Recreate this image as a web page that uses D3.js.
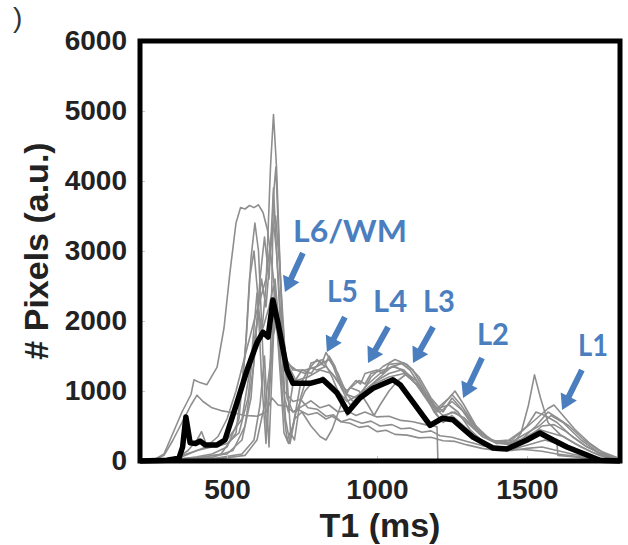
<!DOCTYPE html>
<html>
<head>
<meta charset="utf-8">
<script src="https://cdn.jsdelivr.net/npm/d3@7"></script>
<style>
  body { margin: 0; background: #fff; }
  svg { display: block; }
</style>
</head>
<body>
<div id="chart"></div>
<script>
// Axis ticks
var xTicks = [500, 1000, 1500];
var yTicks = [0, 1000, 2000, 3000, 4000, 5000, 6000];

// Mean curve (black), [T1 ms, pixels]
var meanCurve = [[210,0],[300,10],[340,40],[352,200],[363,630],[377,260],[395,250],[410,285],[427,230],[467,230],[493,300],
  [533,830],[567,1300],[600,1690],[620,1840],[637,1770],[653,2300],[670,1970],[700,1300],[720,1110],[777,1110],
  [820,1160],[867,970],[903,700],[943,900],[987,1040],[1053,1160],[1077,1090],[1120,840],[1177,510],[1217,610],
  [1253,590],[1290,450],[1320,340],[1387,185],[1433,170],[1500,300],[1543,400],[1587,300],[1633,200],[1700,85],
  [1743,10],[1810,0]];

// Individual subject curves (grey)
var g1 = [[250,0],[300,20],[350,80],[400,150],[450,200],[500,300],[550,600],[580,1400],[600,2400],[615,1800],[630,2500],
  [645,4200],[655,4950],[665,4200],[680,2400],[692,900],[705,700],[720,1100],[750,1300],[780,1250],[810,1420],[825,1350],
  [840,1500],[860,1350],[880,1100],[900,1000],[930,1150],[945,1100],[960,1250],[1000,1300],[1020,1250],[1040,1380],
  [1080,1400],[1110,1300],[1140,1100],[1170,900],[1200,700],[1230,850],[1250,950],[1280,800],[1320,550],[1360,350],
  [1400,250],[1450,300],[1500,500],[1530,700],[1560,650],[1600,550],[1650,350],[1700,200],[1750,100],[1800,40]];
var g2 = [[250,0],[290,100],[320,400],[350,700],[380,950],[390,1160],[410,1120],[433,1090],[467,1340],[490,1900],[510,2700],
  [530,3400],[545,3620],[560,3600],[575,3650],[590,3620],[605,3660],[620,3550],[635,3300],[650,2800],[665,2200],
  [680,1700],[700,1400],[730,1300],[760,1250],[780,1330],[800,1300],[830,1350],[860,1200],[880,1080],[900,1000],
  [940,1150],[960,1100],[980,1250],[1020,1300],[1060,1350],[1100,1250],[1140,1050],[1180,800],[1220,650],[1260,700],
  [1300,550],[1350,350],[1400,250],[1450,250],[1500,350],[1540,450],[1580,400],[1620,350],[1680,200],[1740,80],[1800,20]];
var g3 = [[250,0],[290,80],[320,300],[350,550],[380,800],[400,940],[420,850],[450,760],[480,720],[520,690],[560,650],
  [600,640],[630,700],[650,900],[670,800],[700,780],[720,700],[740,730],[770,660],[800,690],[830,600],[850,640],
  [880,560],[910,600],[950,540],[980,570],[1010,500],[1050,520],[1080,460],[1110,470],[1150,410],[1180,430],
  [1210,360],[1250,340],[1300,280],[1350,220],[1400,190],[1450,170],[1500,160],[1550,140],[1600,100],[1700,50],[1800,10]];
var g4 = [[250,0],[350,30],[400,60],[450,100],[500,200],[540,600],[565,1800],[580,2900],[593,3400],[605,3000],[620,1500],
  [632,400],[645,1200],[660,2600],[672,2000],[685,900],[700,300],[720,500],[745,1100],[770,1300],[800,1450],[815,1380],
  [830,1550],[850,1400],[880,1050],[910,800],[940,900],[980,1200],[1020,1350],[1060,1450],[1100,1380],[1140,1200],
  [1180,900],[1220,700],[1250,900],[1280,750],[1320,500],[1380,300],[1440,250],[1500,400],[1540,500],[1580,650],
  [1620,550],[1680,300],[1740,120],[1800,30]];
var g5 = [[250,0],[400,40],[480,100],[530,400],[560,1500],[575,2600],[590,3000],[602,2400],[615,1200],[630,250],
  [645,1500],[655,3800],[663,4200],[672,3200],[685,2000],[700,1200],[712,400],[725,300],[745,900],[780,1400],[820,1450],
  [850,1200],[880,900],[900,650],[930,800],[970,1050],[1010,1200],[1050,1350],[1090,1300],[1130,1100],[1170,900],
  [1210,700],[1250,850],[1290,700],[1340,420],[1400,260],[1460,220],[1510,350],[1550,500],[1590,520],[1630,420],
  [1690,230],[1750,90],[1800,20]];
var g6 = [[250,0],[300,10],[350,60],[400,150],[430,200],[470,350],[500,600],[530,1000],[560,1500],[590,2000],[610,2300],
  [630,2600],[650,3300],[662,3500],[675,2800],[690,1800],[700,900],[720,700],[750,780],[780,860],[810,760],[840,800],
  [870,700],[900,720],[930,650],[960,700],[1000,630],[1040,640],[1080,580],[1120,560],[1160,520],[1200,490],[1203,0]];
var g7 = [[250,0],[400,50],[500,100],[550,300],[580,900],[600,2000],[615,2600],[630,2200],[645,3000],[655,3400],[665,3000],
  [680,2000],[700,1400],[730,1150],[770,1200],[810,1300],[850,1250],[890,1000],[920,850],[960,1000],[1000,1150],
  [1040,1250],[1080,1300],[1120,1150],[1160,950],[1200,750],[1240,800],[1270,700],[1310,450],[1360,250],[1410,180],
  [1450,220],[1480,400],[1505,800],[1525,1230],[1545,900],[1570,550],[1610,380],[1660,250],[1720,120],[1780,40],[1810,10]];
var g8 = [[250,0],[450,50],[520,150],[560,500],[590,1400],[610,2600],[625,3200],[640,2600],[655,3900],[665,3000],
  [680,1800],[695,600],[710,250],[730,700],[760,1000],[780,1100],[820,1200],[860,1050],[900,850],[940,950],[990,1100],
  [1040,1200],[1090,1250],[1130,1100],[1170,850],[1210,600],[1250,700],[1290,620],[1340,400],[1390,280],[1440,300],
  [1490,450],[1530,600],[1570,750],[1590,800],[1620,650],[1660,450],[1710,250],[1760,100],[1810,20]];
var g9 = [[250,0],[450,30],[550,100],[590,300],[610,800],[625,1500],[640,200],[655,1800],[665,2000],[678,1200],
  [690,400],[705,250],[725,600],[750,700],[780,500],[810,350],[830,300],[850,450],[880,800],[910,1050],[940,1000],
  [970,800],[990,650],[1010,800],[1040,1000],[1070,1150],[1100,1250],[1130,1150],[1160,950],[1190,700],[1220,550],
  [1250,650],[1290,500],[1340,300],[1400,200],[1460,180],[1520,250],[1560,300],[1600,250],[1603,80],[1650,60],
  [1720,30],[1800,10]];
var g10 = [[250,0],[450,20],[560,80],[600,300],[630,900],[650,1600],[662,2200],[675,1500],[690,1000],[720,850],
  [745,880],[770,760],[800,740],[830,640],[855,660],[880,560],[910,540],[940,480],[970,500],[1000,420],[1030,440],
  [1060,380],[1100,370],[1140,330],[1180,340],[1220,290],[1260,280],[1300,230],[1350,180],[1400,150],[1450,150],
  [1500,180],[1550,200],[1600,150],[1650,100],[1700,60],[1800,10]];
var g11 = [[250,0],[330,30],[370,150],[400,300],[415,420],[430,250],[460,200],[500,250],[540,400],[570,900],[590,1700],
  [605,2100],[620,1900],[640,2200],[655,2500],[670,2000],[690,1500],[720,1300],[760,1300],[800,1350],[840,1450],
  [870,1250],[900,950],[930,900],[970,1100],[1010,1250],[1050,1350],[1090,1400],[1120,1300],[1160,1000],[1200,750],
  [1240,900],[1260,1000],[1290,800],[1330,500],[1380,300],[1430,260],[1480,300],[1530,500],[1570,700],[1600,620],
  [1640,500],[1690,300],[1740,150],[1800,50]];
var greyCurves = [g1, g2, g3, g4, g5, g6, g7, g8, g9, g10, g11];

// Layer labels with arrows (data coords)
var layerLabels = ['L6/WM', 'L5', 'L4', 'L3', 'L2', 'L1'];
var labelAt = [[720,3129],[833,2271],[987,2129],[1153,2129],[1333,1657],[1670,1500]];
var arrowFrom = [[753,2971],[893,2057],[1037,1914],[1187,1914],[1350,1471],[1683,1300]];
var arrowTo = [[693,2414],[833,1557],[970,1400],[1120,1400],[1287,900],[1617,729]];
var labelWidths = [114, 31, 34, 32, 32, 30];

var width = 628, height = 545;
var margin = { top: 41, right: 8, bottom: 84, left: 140 };
var blue = '#4a7ebf';

var svg = d3.select('#chart').append('svg')
    .attr('width', width)
    .attr('height', height);

var x = d3.scaleLinear().domain([210, 1810]).range([margin.left, width - margin.right]);
var y = d3.scaleLinear().domain([0, 6000]).range([height - margin.bottom, margin.top]);

var line = d3.line().x(d => x(d[0])).y(d => y(d[1]));

// grey curves
svg.append('g')
    .selectAll('path')
    .data(greyCurves)
    .join('path')
    .attr('d', line)
    .attr('fill', 'none')
    .attr('stroke', '#8e8e8e')
    .attr('stroke-width', 1.6)
    .attr('stroke-linejoin', 'round');

// mean curve
svg.append('path')
    .datum(meanCurve)
    .attr('d', line)
    .attr('fill', 'none')
    .attr('stroke', '#000')
    .attr('stroke-width', 5.5)
    .attr('stroke-linejoin', 'round');

// axes
var yAxis = svg.append('g')
    .attr('transform', `translate(${margin.left},0)`)
    .call(d3.axisLeft(y).tickValues(yTicks).tickSize(-5).tickPadding(13).tickFormat(d3.format('d')));
var xAxis = svg.append('g')
    .attr('transform', `translate(0,${height - margin.bottom})`)
    .call(d3.axisBottom(x).tickValues(xTicks).tickSize(-5).tickPadding(18).tickFormat(d3.format('d')));

[xAxis, yAxis].forEach(function(g) {
    g.select('.domain').remove();
    g.selectAll('line').attr('stroke', '#c8c8c8');
    g.selectAll('text')
        .attr('font-family', 'Arial, "Liberation Sans", sans-serif')
        .attr('font-weight', 'bold')
        .attr('font-size', '28px')
        .attr('fill', '#222');
});

// frame
svg.append('rect')
    .attr('x', margin.left)
    .attr('y', margin.top)
    .attr('width', width - margin.left - margin.right)
    .attr('height', height - margin.top - margin.bottom)
    .attr('fill', 'none')
    .attr('stroke', '#000')
    .attr('stroke-width', 5);

// axis titles
svg.append('text')
    .attr('x', (margin.left + width - margin.right) / 2)
    .attr('y', 537)
    .attr('text-anchor', 'middle')
    .attr('font-family', 'Arial, "Liberation Sans", sans-serif')
    .attr('font-weight', 'bold')
    .attr('font-size', '34px')
    .attr('fill', '#222')
    .text('T1 (ms)');

svg.append('text')
    .attr('transform', `translate(48,${(margin.top + height - margin.bottom) / 2}) rotate(-90)`)
    .attr('text-anchor', 'middle')
    .attr('font-family', 'Arial, "Liberation Sans", sans-serif')
    .attr('font-weight', 'bold')
    .attr('font-size', '34px')
    .attr('fill', '#222')
    .text('# Pixels (a.u.)');

// cut-off panel label at top left
svg.append('text')
    .attr('x', 13)
    .attr('y', 27)
    .attr('font-family', 'Arial, "Liberation Sans", sans-serif')
    .attr('font-size', '28px')
    .attr('fill', '#333')
    .text(')');

// layer labels and arrows
var ann = svg.append('g');
layerLabels.forEach(function(label, i) {
    ann.append('text')
        .attr('x', x(labelAt[i][0]))
        .attr('y', y(labelAt[i][1]))
        .attr('font-family', 'Lato, "Open Sans", sans-serif')
        .attr('font-weight', 'bold')
        .attr('font-size', '31px')
        .attr('fill', blue)
        .attr('textLength', labelWidths[i])
        .attr('lengthAdjust', 'spacingAndGlyphs')
        .text(label);

    var x0 = x(arrowFrom[i][0]), y0 = y(arrowFrom[i][1]);
    var x1 = x(arrowTo[i][0]), y1 = y(arrowTo[i][1]);
    var len = Math.hypot(x1 - x0, y1 - y0);
    var ux = (x1 - x0) / len, uy = (y1 - y0) / len;
    var headLen = 15, headW = 9;
    var bx = x1 - ux * headLen, by = y1 - uy * headLen;

    ann.append('line')
        .attr('x1', x0).attr('y1', y0)
        .attr('x2', bx + ux * 2).attr('y2', by + uy * 2)
        .attr('stroke', blue)
        .attr('stroke-width', 6);

    ann.append('path')
        .attr('d', `M${x1},${y1}L${bx - uy * headW},${by + ux * headW}L${bx + uy * headW},${by - ux * headW}Z`)
        .attr('fill', blue);
});
</script>
</body>
</html>
